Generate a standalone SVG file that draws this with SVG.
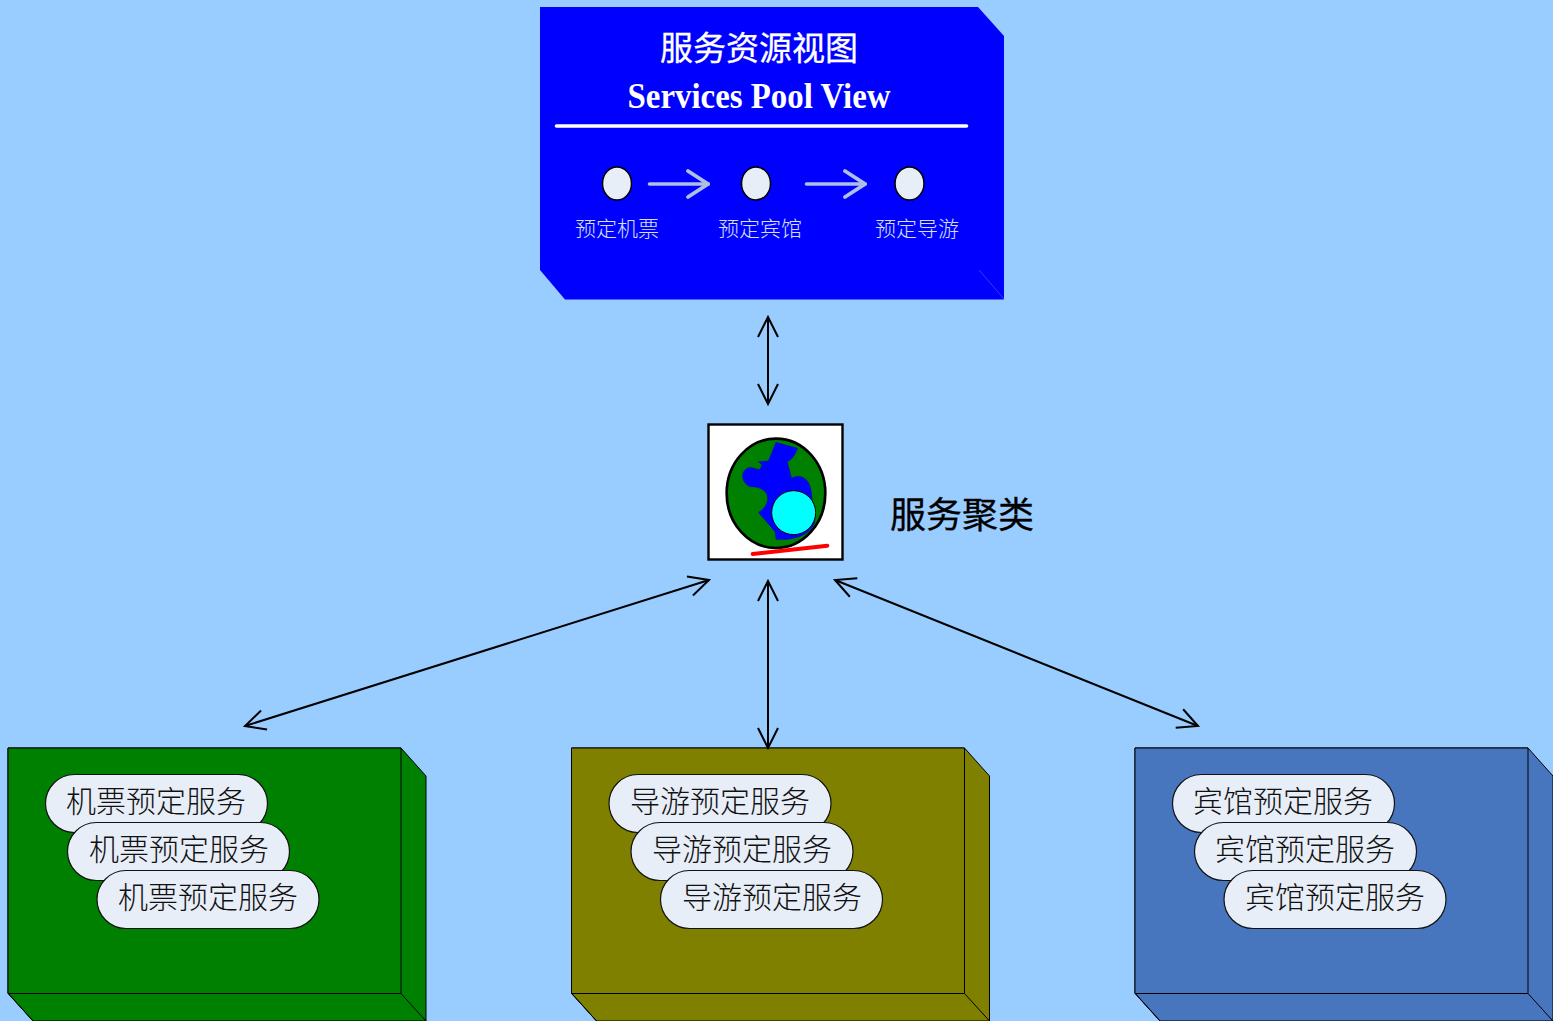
<svg xmlns="http://www.w3.org/2000/svg" width="1553" height="1021" viewBox="0 0 1553 1021">
<style>
text{font-family:"Liberation Serif","Noto Sans CJK SC",serif}
.pill rect{fill:#e8eef8;stroke:#111;stroke-width:1.2}
.pill text{font-size:30px;fill:#111;text-anchor:middle;font-weight:300}
.box path{stroke:#000;stroke-width:1;stroke-linejoin:round}
.dot{fill:#e8eef8;stroke:#000;stroke-width:1.5}
.lbl{font-size:21px;fill:#d6e0f4;font-weight:300;text-anchor:middle}
.conn{fill:none;stroke:#000;stroke-width:2;marker-start:url(#open);marker-end:url(#open)}
.flow{fill:none;stroke:#adbfe2;stroke-width:3.6;stroke-linecap:round;marker-end:url(#openL)}
</style>
<defs>
<marker id="open" viewBox="-22 -12 24 24" markerUnits="userSpaceOnUse" markerWidth="24" markerHeight="24" refX="0" refY="0" orient="auto-start-reverse"><path d="M-20,-10 L0,0 L-20,10" fill="none" stroke="#000" stroke-width="2"/></marker>
<marker id="openL" viewBox="-22 -16 24 32" markerUnits="userSpaceOnUse" markerWidth="24" markerHeight="32" refX="0" refY="0" orient="auto"><path d="M-20,-13 L0,0 L-20,13" fill="none" stroke="#adbfe2" stroke-width="3.8" stroke-linecap="round"/></marker>
</defs>
<rect width="1553" height="1021" fill="#99ccff"/>

<g id="pool-view">
<path d="M540,7 H978 L1004,36 V299.5 H565 L540,270 Z" fill="#0000ff"/>
<path d="M979,270 L1004,299" stroke="#3a3af0" stroke-width="1" fill="none"/>
<text x="759" y="60" font-size="33" fill="#fff" text-anchor="middle" stroke="#fff" stroke-width=".3">服务资源视图</text>
<text x="759" y="108" font-size="36" font-weight="700" fill="#fff" text-anchor="middle" textLength="263" lengthAdjust="spacingAndGlyphs">Services Pool View</text>
<line x1="556.5" y1="126" x2="966.5" y2="126" stroke="#fff" stroke-width="3.6" stroke-linecap="round"/>
<ellipse class="dot" cx="617" cy="183.5" rx="14.5" ry="16.5"/>
<ellipse class="dot" cx="756" cy="183.5" rx="14.5" ry="16.5"/>
<ellipse class="dot" cx="909.5" cy="183.5" rx="14.5" ry="16.5"/>
<line class="flow" x1="649.5" y1="184" x2="708" y2="184"/>
<line class="flow" x1="806.5" y1="184" x2="865" y2="184"/>
<text class="lbl" x="617" y="236">预定机票</text>
<text class="lbl" x="760" y="236">预定宾馆</text>
<text class="lbl" x="917" y="236">预定导游</text>
</g>

<g id="cluster">
<rect x="708.5" y="424.5" width="134" height="135" fill="#fff" stroke="#000" stroke-width="2.4"/>
<g transform="translate(700 415) scale(.3333)">
<ellipse cx="228" cy="235" rx="148" ry="164" fill="#008000" stroke="#000" stroke-width="8"/>
<path d="M228,82 L293,100 C285,122 275,135 262,140 L275,190 C290,178 325,180 333,225 L345,320 C335,350 300,378 228,373 L225,350 L175,292 C210,275 222,215 150,215 C125,205 118,170 145,158 C160,155 170,165 180,163 L186,150 L175,140 L205,138 Z" fill="#0000ff" stroke="#000080" stroke-width="1"/>
<circle cx="281" cy="293" r="66" fill="#00ffff" stroke="#000" stroke-width="3"/>
<line x1="158" y1="417" x2="382" y2="392" stroke="#ff0000" stroke-width="12" stroke-linecap="round"/>
</g>
<text x="890" y="528" font-size="36" fill="#000" stroke="#000" stroke-width=".3">服务聚类</text>
</g>

<g id="air-services">
<g class="box" fill="#008000">
<path d="M401,748 L426,776 V1021 H33 L8,993 V748 Z"/>
<path d="M8,748 H401 V993.5 H8 Z"/>
<path d="M8,993.5 L33,1021 M401,993.5 L426,1021" fill="none"/>
</g>
<g class="pill"><rect x="45.5" y="774.5" width="222" height="58" rx="29"/><text x="156" y="812">机票预定服务</text></g>
<g class="pill"><rect x="67.5" y="822.5" width="222" height="58" rx="29"/><text x="179" y="860">机票预定服务</text></g>
<g class="pill"><rect x="97" y="870.5" width="222" height="58" rx="29"/><text x="208" y="908">机票预定服务</text></g>
</g>

<g id="guide-services">
<g class="box" fill="#808000">
<path d="M964.5,748 L989.5,776 V1021 H596.5 L571.5,993 V748 Z"/>
<path d="M571.5,748 H964.5 V993.5 H571.5 Z"/>
<path d="M571.5,993.5 L596.5,1021 M964.5,993.5 L989.5,1021" fill="none"/>
</g>
<g class="pill"><rect x="609" y="774.5" width="222" height="58" rx="29"/><text x="720" y="812">导游预定服务</text></g>
<g class="pill"><rect x="631" y="822.5" width="222" height="58" rx="29"/><text x="742" y="860">导游预定服务</text></g>
<g class="pill"><rect x="660.5" y="870.5" width="222" height="58" rx="29"/><text x="772" y="908">导游预定服务</text></g>
</g>

<g id="hotel-services">
<g class="box" fill="#4876be">
<path d="M1528,748 L1553,776 V1021 H1160 L1135,993 V748 Z"/>
<path d="M1135,748 H1528 V993.5 H1135 Z"/>
<path d="M1135,993.5 L1160,1021 M1528,993.5 L1553,1021" fill="none"/>
</g>
<g class="pill"><rect x="1172.5" y="774.5" width="222" height="58" rx="29"/><text x="1283" y="812">宾馆预定服务</text></g>
<g class="pill"><rect x="1194.5" y="822.5" width="222" height="58" rx="29"/><text x="1305" y="860">宾馆预定服务</text></g>
<g class="pill"><rect x="1224" y="870.5" width="222" height="58" rx="29"/><text x="1335" y="908">宾馆预定服务</text></g>
</g>

<g id="connectors">
<line class="conn" x1="768" y1="317" x2="768" y2="404"/>
<line class="conn" x1="709" y1="580" x2="245" y2="726"/>
<line class="conn" x1="768" y1="581" x2="768" y2="748"/>
<line class="conn" x1="835" y1="580" x2="1198" y2="726"/>
</g>
</svg>
